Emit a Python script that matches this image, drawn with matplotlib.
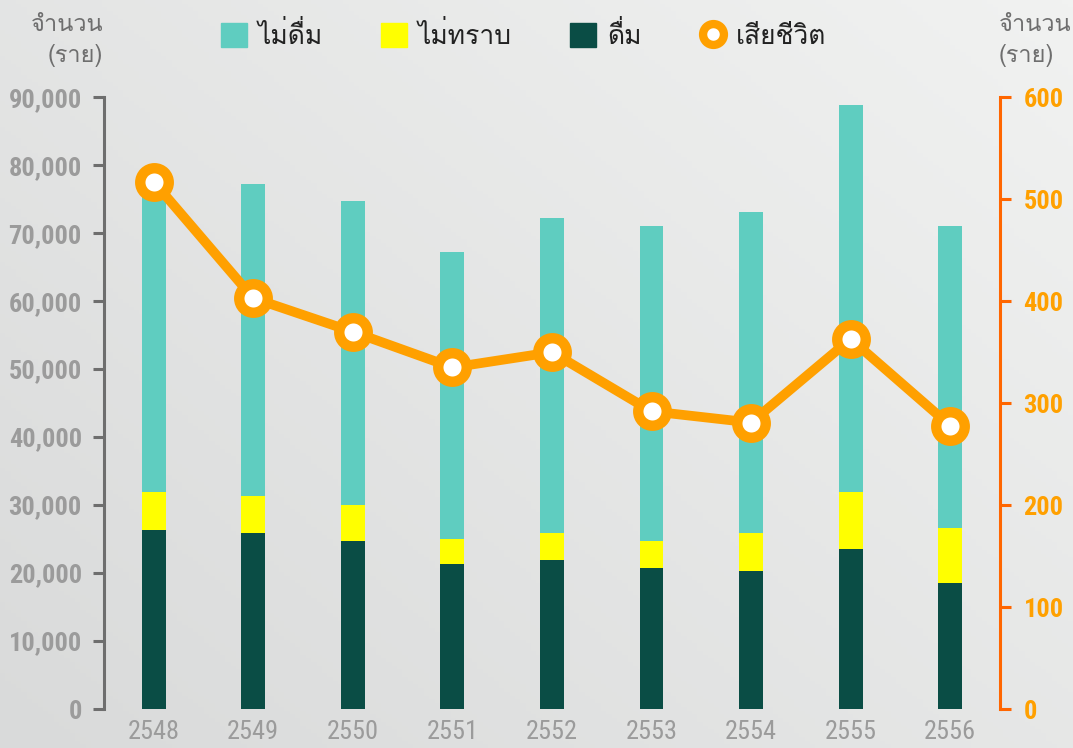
import numpy as np
import matplotlib
matplotlib.use("Agg")
import matplotlib.pyplot as plt
from matplotlib import font_manager
from matplotlib.ft2font import FT2Font
from matplotlib.lines import Line2D
from matplotlib.patches import Patch

# Data
years = ["2548", "2549", "2550", "2551", "2552", "2553", "2554", "2555", "2556"]
drink = [26400, 25900, 24800, 21300, 21900, 20700, 20300, 23500, 18500]
unknown = [5600, 5400, 5200, 3700, 4000, 4000, 5600, 8500, 8100]
no_drink = [45500, 45900, 44700, 42300, 46300, 46300, 47200, 56800, 44400]
deaths = [517, 403, 370, 335, 350, 292, 281, 363, 278]

labels = ["ไม่ดื่ม", "ไม่ทราบ", "ดื่ม", "เสียชีวิต"]
axis_title = "จำนวน\n(ราย)"


def find_thai_font():
    for f in font_manager.fontManager.ttflist:
        try:
            cmap = FT2Font(f.fname).get_charmap()
        except Exception:
            continue
        if 0x0E08 in cmap and 0x0E35 in cmap:
            return f.name
    return "DejaVu Sans"


def find_narrow_font():
    names = {f.name for f in font_manager.fontManager.ttflist}
    for n in ["Liberation Sans Narrow", "Roboto Condensed", "Open Sans Condensed", "DejaVu Sans"]:
        if n in names:
            return n
    return "DejaVu Sans"


thai_font = find_thai_font()
num_font = find_narrow_font()
plt.rcParams["font.family"] = [thai_font, "DejaVu Sans"]

fig = plt.figure(figsize=(10.73, 7.48), dpi=100)

# Background gradient
bg = fig.add_axes([0, 0, 1, 1], zorder=-10)
gx, gy = np.meshgrid(np.linspace(0, 1, 200), np.linspace(0, 1, 200))
grad = 0.55 * gx + 0.45 * gy
bg.imshow(grad, extent=[0, 1, 0, 1], origin="lower", aspect="auto",
          cmap=matplotlib.colors.LinearSegmentedColormap.from_list("bg", ["#d9dada", "#f1f2f1"]))
bg.axis("off")

ax = fig.add_axes([0.0969, 0.052, 0.835, 0.818])
ax.patch.set_alpha(0)
x = np.arange(len(years))
w = 0.24
c_drink = "#0a4d45"
c_unknown = "#ffff00"
c_no = "#5fcdc0"
ax.bar(x, drink, w, color=c_drink)
ax.bar(x, unknown, w, bottom=drink, color=c_unknown)
ax.bar(x, no_drink, w, bottom=np.array(drink) + np.array(unknown), color=c_no)

ax.set_xlim(-0.5, len(years) - 0.5)
ax.set_ylim(0, 90000)
ax.set_yticks(np.arange(0, 90001, 10000))
ax.set_yticklabels([f"{v:,}" for v in range(0, 90001, 10000)])
ax.set_xticks(x)
ax.set_xticklabels(years)
for s in ["top", "right", "bottom"]:
    ax.spines[s].set_visible(False)
ax.spines["left"].set_color("#6e6e6e")
ax.spines["left"].set_linewidth(2.2)
ax.tick_params(axis="y", length=8, width=2.2, color="#6e6e6e", pad=8,
               labelcolor="#9b9b9b", labelsize=19)
ax.tick_params(axis="x", length=0, pad=8, labelcolor="#9b9b9b", labelsize=19)
for t in ax.get_yticklabels():
    t.set_family(num_font)
    t.set_fontweight("bold")
for t in ax.get_xticklabels():
    t.set_family(num_font)

ax2 = ax.twinx()
ax2.set_ylim(0, 600)
ax2.set_yticks(np.arange(0, 601, 100))
for s in ["top", "left", "bottom"]:
    ax2.spines[s].set_visible(False)
ax2.spines["right"].set_color("#ff6600")
ax2.spines["right"].set_linewidth(2.2)
ax2.tick_params(axis="y", length=8, width=2.2, color="#ff6600", pad=9,
                labelcolor="#ffa000", labelsize=19)
for t in ax2.get_yticklabels():
    t.set_family(num_font)
    t.set_fontweight("bold")
ax2.plot(x, deaths, color="#ffa000", lw=7, marker="o", ms=20.5, mew=7.5,
         mfc="white", mec="#ffa000", solid_capstyle="round", clip_on=False)

# Axis titles
fig.text(103 / 1073, 1 - 40 / 748, axis_title, ha="right", va="center",
         fontsize=17, color="#6e6e6e", linespacing=1.4)
fig.text(999 / 1073, 1 - 40 / 748, axis_title, ha="left", va="center",
         fontsize=17, color="#6e6e6e", linespacing=1.4)

# Legend
handles = [
    Patch(color=c_no),
    Patch(color=c_unknown),
    Patch(color=c_drink),
    Line2D([], [], color="none", marker="o", ms=15, mew=6, mfc="white", mec="#ffa000"),
]
fig.legend(handles, labels, loc="center", bbox_to_anchor=(0.488, 1 - 35 / 748),
           ncol=4, frameon=False, fontsize=19, handlelength=1.0, handleheight=1.0,
           columnspacing=2.2, handletextpad=0.4, labelcolor="#222222")

fig.savefig("out.png", dpi=100)
